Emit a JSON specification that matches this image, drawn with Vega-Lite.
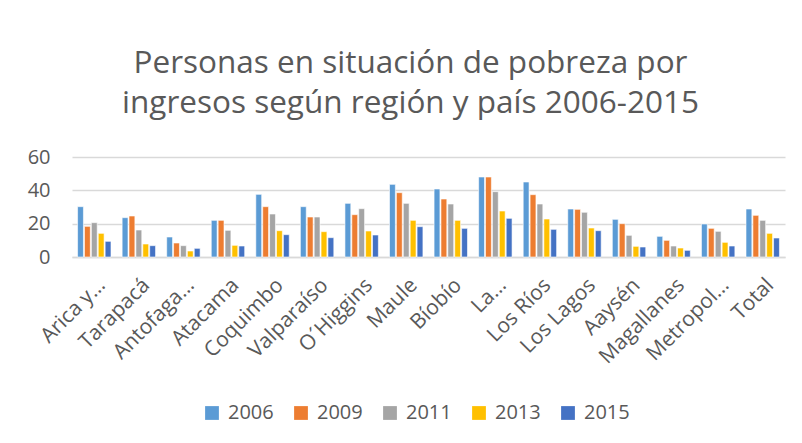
{
  "$schema": "https://vega.github.io/schema/vega-lite/v6.json",
  "width": 713,
  "height": 100,
  "autosize": {"type": "none"},
  "padding": {"left": 72, "top": 157, "right": 17, "bottom": 186},
  "background": "white",
  "title": {
    "text": ["Personas en situación de pobreza por", "ingresos según región y país 2006-2015"],
    "font": "Open Sans",
    "fontSize": 31.5,
    "fontWeight": "normal",
    "color": "#595959",
    "anchor": "middle",
    "dx": -18,
    "lineHeight": 40,
    "offset": 28
  },
  "data": {
    "values": [
      {"region": "Arica y…", "year": "2006", "value": 30.2},
      {"region": "Arica y…", "year": "2009", "value": 18.4},
      {"region": "Arica y…", "year": "2011", "value": 20.6},
      {"region": "Arica y…", "year": "2013", "value": 14.2},
      {"region": "Arica y…", "year": "2015", "value": 9.4},
      {"region": "Tarapacá", "year": "2006", "value": 23.6},
      {"region": "Tarapacá", "year": "2009", "value": 24.6},
      {"region": "Tarapacá", "year": "2011", "value": 16.2},
      {"region": "Tarapacá", "year": "2013", "value": 7.8},
      {"region": "Tarapacá", "year": "2015", "value": 6.8},
      {"region": "Antofaga…", "year": "2006", "value": 12.0},
      {"region": "Antofaga…", "year": "2009", "value": 8.4},
      {"region": "Antofaga…", "year": "2011", "value": 6.8},
      {"region": "Antofaga…", "year": "2013", "value": 3.6},
      {"region": "Antofaga…", "year": "2015", "value": 5.2},
      {"region": "Atacama", "year": "2006", "value": 22.0},
      {"region": "Atacama", "year": "2009", "value": 22.0},
      {"region": "Atacama", "year": "2011", "value": 16.0},
      {"region": "Atacama", "year": "2013", "value": 7.0},
      {"region": "Atacama", "year": "2015", "value": 6.6},
      {"region": "Coquimbo", "year": "2006", "value": 37.6},
      {"region": "Coquimbo", "year": "2009", "value": 30.2},
      {"region": "Coquimbo", "year": "2011", "value": 25.8},
      {"region": "Coquimbo", "year": "2013", "value": 15.8},
      {"region": "Coquimbo", "year": "2015", "value": 13.4},
      {"region": "Valparaíso", "year": "2006", "value": 30.2},
      {"region": "Valparaíso", "year": "2009", "value": 24.0},
      {"region": "Valparaíso", "year": "2011", "value": 24.0},
      {"region": "Valparaíso", "year": "2013", "value": 15.2},
      {"region": "Valparaíso", "year": "2015", "value": 11.6},
      {"region": "O´Higgins", "year": "2006", "value": 32.2},
      {"region": "O´Higgins", "year": "2009", "value": 25.4},
      {"region": "O´Higgins", "year": "2011", "value": 29.0},
      {"region": "O´Higgins", "year": "2013", "value": 15.6},
      {"region": "O´Higgins", "year": "2015", "value": 13.2},
      {"region": "Maule", "year": "2006", "value": 43.6},
      {"region": "Maule", "year": "2009", "value": 38.6},
      {"region": "Maule", "year": "2011", "value": 32.2},
      {"region": "Maule", "year": "2013", "value": 22.0},
      {"region": "Maule", "year": "2015", "value": 18.2},
      {"region": "Bíobío", "year": "2006", "value": 40.8},
      {"region": "Bíobío", "year": "2009", "value": 34.8},
      {"region": "Bíobío", "year": "2011", "value": 31.8},
      {"region": "Bíobío", "year": "2013", "value": 22.0},
      {"region": "Bíobío", "year": "2015", "value": 17.2},
      {"region": "La…", "year": "2006", "value": 48.0},
      {"region": "La…", "year": "2009", "value": 48.0},
      {"region": "La…", "year": "2011", "value": 39.2},
      {"region": "La…", "year": "2013", "value": 27.6},
      {"region": "La…", "year": "2015", "value": 23.2},
      {"region": "Los Ríos", "year": "2006", "value": 45.0},
      {"region": "Los Ríos", "year": "2009", "value": 37.4},
      {"region": "Los Ríos", "year": "2011", "value": 31.8},
      {"region": "Los Ríos", "year": "2013", "value": 22.8},
      {"region": "Los Ríos", "year": "2015", "value": 16.6},
      {"region": "Los Lagos", "year": "2006", "value": 28.8},
      {"region": "Los Lagos", "year": "2009", "value": 28.6},
      {"region": "Los Lagos", "year": "2011", "value": 26.8},
      {"region": "Los Lagos", "year": "2013", "value": 17.4},
      {"region": "Los Lagos", "year": "2015", "value": 15.8},
      {"region": "Aaysén", "year": "2006", "value": 22.6},
      {"region": "Aaysén", "year": "2009", "value": 20.0},
      {"region": "Aaysén", "year": "2011", "value": 13.0},
      {"region": "Aaysén", "year": "2013", "value": 6.4},
      {"region": "Aaysén", "year": "2015", "value": 6.0},
      {"region": "Magallanes", "year": "2006", "value": 12.4},
      {"region": "Magallanes", "year": "2009", "value": 10.0},
      {"region": "Magallanes", "year": "2011", "value": 6.6},
      {"region": "Magallanes", "year": "2013", "value": 5.4},
      {"region": "Magallanes", "year": "2015", "value": 4.0},
      {"region": "Metropol…", "year": "2006", "value": 19.8},
      {"region": "Metropol…", "year": "2009", "value": 17.2},
      {"region": "Metropol…", "year": "2011", "value": 15.4},
      {"region": "Metropol…", "year": "2013", "value": 8.8},
      {"region": "Metropol…", "year": "2015", "value": 6.6},
      {"region": "Total", "year": "2006", "value": 28.8},
      {"region": "Total", "year": "2009", "value": 25.0},
      {"region": "Total", "year": "2011", "value": 22.0},
      {"region": "Total", "year": "2013", "value": 14.2},
      {"region": "Total", "year": "2015", "value": 11.4}
    ]
  },
  "mark": {"type": "bar", "stroke": "white", "strokeWidth": 0.6},
  "encoding": {
    "x": {
      "field": "region",
      "type": "nominal",
      "sort": null,
      "scale": {"paddingInner": 0.25, "paddingOuter": 0.125},
      "axis": {
        "title": null,
        "labelAngle": -45,
        "labelFont": "Open Sans",
        "labelFontSize": 21,
        "labelColor": "#595959",
        "ticks": false,
        "tickSize": 0,
        "labelPadding": 17,
        "labelLimit": 200,
        "domainColor": "#d9d9d9",
        "domainWidth": 1.5,
        "grid": false
      }
    },
    "xOffset": {
      "field": "year",
      "type": "nominal",
      "scale": {"paddingInner": 0.15}
    },
    "y": {
      "field": "value",
      "type": "quantitative",
      "scale": {"domain": [0, 60]},
      "axis": {
        "title": null,
        "values": [0, 20, 40, 60],
        "labelFont": "Open Sans",
        "labelFontSize": 20,
        "labelColor": "#595959",
        "ticks": false,
        "tickSize": 0,
        "labelPadding": 22,
        "domain": false,
        "gridColor": "#d9d9d9",
        "gridWidth": 1.5
      }
    },
    "color": {
      "field": "year",
      "type": "nominal",
      "scale": {
        "domain": ["2006", "2009", "2011", "2013", "2015"],
        "range": ["#5B9BD5", "#ED7D31", "#A5A5A5", "#FFC000", "#4472C4"]
      },
      "legend": {
        "title": null,
        "orient": "none",
        "direction": "horizontal",
        "legendX": 130,
        "legendY": 246,
        "symbolType": "square",
        "symbolSize": 190,
        "symbolStrokeWidth": 0,
        "labelFont": "Open Sans",
        "labelFontSize": 20,
        "labelColor": "#595959",
        "labelOffset": 6,
        "columnPadding": 17
      }
    }
  },
  "config": {"view": {"stroke": null}}
}
